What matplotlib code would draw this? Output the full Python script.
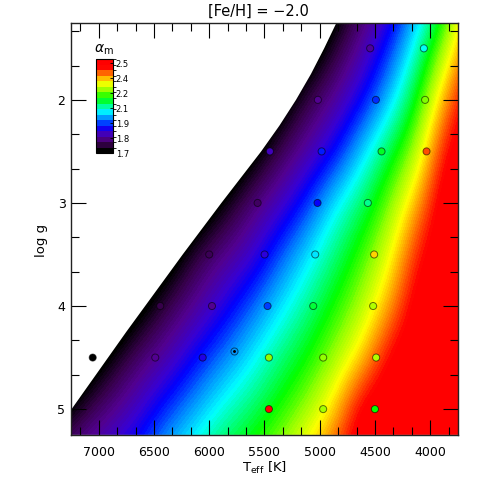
import numpy as np
import matplotlib
matplotlib.use('Agg')
import matplotlib.pyplot as plt
from matplotlib.colors import LinearSegmentedColormap, BoundaryNorm
from matplotlib.patches import Polygon
from matplotlib.ticker import AutoMinorLocator, MultipleLocator
from matplotlib.cm import ScalarMappable

plt.rcParams['font.family'] = ['DejaVu Sans']
plt.rcParams['mathtext.fontset'] = 'dejavusans'

# alpha_m map, rows = log g 1.0 .. 5.5, cols = Teff 3625 .. 7375 (cell centres)
grid_logg = [1.0, 1.5, 2.0, 2.5, 3.0, 3.5, 4.0, 4.5, 5.0, 5.5]
grid_teff = [3625, 3875, 4125, 4375, 4625, 4875, 5125, 5375, 5625, 5875, 6125, 6375, 6625, 6875, 7125, 7375]
alpha_map = [
    [2.41, 2.17, 2.00, 1.86, 1.76, 1.65, 1.51, 1.43, 1.33, 1.23, 1.15, 1.12, 1.08, 1.04, 1.00, 0.96],
    [2.48, 2.29, 2.10, 1.95, 1.84, 1.74, 1.63, 1.53, 1.43, 1.33, 1.25, 1.20, 1.15, 1.10, 1.05, 1.00],
    [2.55, 2.41, 2.20, 2.04, 1.92, 1.83, 1.76, 1.65, 1.53, 1.43, 1.35, 1.28, 1.22, 1.16, 1.10, 1.04],
    [2.55, 2.51, 2.29, 2.17, 2.05, 1.92, 1.84, 1.77, 1.67, 1.57, 1.47, 1.38, 1.30, 1.23, 1.16, 1.09],
    [2.55, 2.55, 2.40, 2.26, 2.15, 2.07, 1.95, 1.86, 1.80, 1.71, 1.61, 1.51, 1.42, 1.33, 1.25, 1.17],
    [2.55, 2.55, 2.49, 2.33, 2.23, 2.14, 2.06, 1.97, 1.87, 1.82, 1.76, 1.65, 1.55, 1.45, 1.36, 1.27],
    [2.55, 2.55, 2.54, 2.40, 2.29, 2.21, 2.13, 2.06, 1.98, 1.90, 1.83, 1.77, 1.68, 1.58, 1.48, 1.38],
    [2.55, 2.55, 2.55, 2.52, 2.37, 2.28, 2.20, 2.14, 2.07, 2.00, 1.93, 1.85, 1.80, 1.72, 1.62, 1.52],
    [2.55, 2.55, 2.55, 2.55, 2.54, 2.37, 2.28, 2.21, 2.15, 2.10, 2.03, 1.96, 1.88, 1.82, 1.76, 1.65],
    [2.55, 2.55, 2.55, 2.55, 2.55, 2.47, 2.38, 2.30, 2.235, 2.19, 2.125, 2.065, 1.975, 1.915, 1.87, 1.83],
]

# edge of the model grid (white area to the upper left)
bnd_logg = [1.25, 1.5, 1.75, 2.0, 2.25, 2.5, 2.75, 3.0, 3.25, 3.5, 3.75,
            4.0, 4.25, 4.5, 4.75, 5.0, 5.25]
bnd_teff = [4848, 4960, 5080, 5215, 5365, 5530, 5710, 5890, 6065, 6240, 6410,
            6580, 6750, 6915, 7080, 7245, 7410]

# simulation points
pt_teff = [4544, 4058,
           5017, 4492, 4047,
           5451, 4983, 4441, 4034,
           5562, 5020, 4565,
           6000, 5499, 5041, 4508,
           6443, 5975, 5472, 5059, 4517,
           7054, 6488, 6059, 5460, 4969, 4490,
           5460, 4969, 4501]
pt_logg = [1.5, 1.5,
           2.0, 2.0, 2.0,
           2.5, 2.5, 2.5, 2.5,
           3.0, 3.0, 3.0,
           3.5, 3.5, 3.5, 3.5,
           4.0, 4.0, 4.0, 4.0, 4.0,
           4.5, 4.5, 4.5, 4.5, 4.5, 4.5,
           5.0, 5.0, 5.0]
pt_alpha = [1.83, 2.08,
            1.82, 1.96, 2.27,
            1.86, 1.95, 2.19, 2.46,
            1.78, 1.93, 2.14,
            1.77, 1.90, 2.07, 2.38,
            1.76, 1.82, 1.97, 2.18, 2.30,
            1.60, 1.82, 1.91, 2.28, 2.28, 2.30,
            2.52, 2.29, 2.20]
sun_teff, sun_logg, sun_alpha = 5777, 4.44, 2.02

cm_vals = [1.70, 1.76, 1.82, 1.88, 1.925, 2.00, 2.08, 2.14, 2.20, 2.28, 2.35, 2.42, 2.50, 2.55]
cm_cols = ['#000000', '#36004a', '#520090', '#3800d2', '#0000ff', '#0080ff', '#00ffff',
           '#00ff80', '#00ff00', '#99ff00', '#ffff00', '#ff8c00', '#ff0000', '#ff0000']
cbar_ticks = [1.70, 1.836, 1.971, 2.107, 2.243, 2.379, 2.514]
cbar_labels = ['1.7', '1.8', '1.9', '2.1', '2.2', '2.4', '2.5']

vmin, vmax = 1.70, 2.55
cmap = LinearSegmentedColormap.from_list(
    'am', [((v - vmin) / (vmax - vmin), c) for v, c in zip(cm_vals, cm_cols)], N=256)
cmap.set_under('black'); cmap.set_over('red')
norm = BoundaryNorm(np.arange(1.70, 2.5501, 0.01), cmap.N)

fig = plt.figure(figsize=(4.8, 4.8), dpi=100, facecolor='white')
ax = fig.add_axes([0.148, 0.094, 0.806, 0.859])

im = ax.imshow(np.array(alpha_map), cmap=cmap, norm=norm, aspect='auto',
               extent=[3500, 7500, 5.75, 0.75], origin='upper',
               interpolation='bicubic', interpolation_stage='data', zorder=1)
clip = Polygon(list(zip(bnd_teff, bnd_logg)) + [(3700, 5.25), (3700, 1.25)],
               closed=True, transform=ax.transData, fc='none', ec='none')
im.set_clip_path(clip)

ax.scatter(pt_teff, pt_logg, c=pt_alpha, cmap=cmap, norm=norm, s=26,
           edgecolors=(0, 0, 0, 0.55), linewidths=0.7, zorder=3)
ax.scatter([sun_teff], [sun_logg], c=[sun_alpha], cmap=cmap, norm=norm, s=26,
           edgecolors=(0, 0, 0, 0.55), linewidths=0.7, zorder=3)
ax.scatter([sun_teff], [sun_logg], c='k', s=1.2, zorder=4)

ax.set_xlim(7250, 3750)
ax.set_ylim(5.25, 1.25)
ax.xaxis.set_major_locator(MultipleLocator(500))
ax.yaxis.set_major_locator(MultipleLocator(1))
ax.xaxis.set_minor_locator(AutoMinorLocator(3))
ax.yaxis.set_minor_locator(AutoMinorLocator(3))
ax.tick_params(which='both', direction='in', top=True, right=True, width=0.8, colors='black')
ax.tick_params(which='major', length=11, labelsize=9)
ax.tick_params(which='minor', length=5.5)
ax.tick_params(axis='x', pad=8)
ax.tick_params(axis='y', pad=4)
for s in ax.spines.values():
    s.set_linewidth(1.0); s.set_color('#222222')

fig.text(0.539, 1 - 11.5 / 480, '[Fe/H] = \u22122.0', ha='center', va='center', fontsize=10.5)
fig.text(0.55, 0.025, r'T$_{\rm eff}$ [K]', ha='center', va='center', fontsize=9.5)
fig.text(0.087, 0.5, 'log g', ha='center', va='center', rotation=90, fontsize=9.5)

# colour bar inset
cax = fig.add_axes([0.2006, 0.6806, 0.0348, 0.1958])
cb = fig.colorbar(ScalarMappable(norm=BoundaryNorm(np.arange(1.70, 2.5501, 0.05), cmap.N), cmap=cmap),
                  cax=cax, ticks=cbar_ticks)
cb.ax.set_yticklabels(cbar_labels)
cb.ax.tick_params(direction='in', length=2.5, width=0.6, labelsize=6, pad=2)
cb.outline.set_linewidth(0.8)
fig.text(0.217, 0.896, r'$\alpha_{\rm m}$', ha='center', va='center', fontsize=10)

fig.savefig('out.png', dpi=100, facecolor='white')
